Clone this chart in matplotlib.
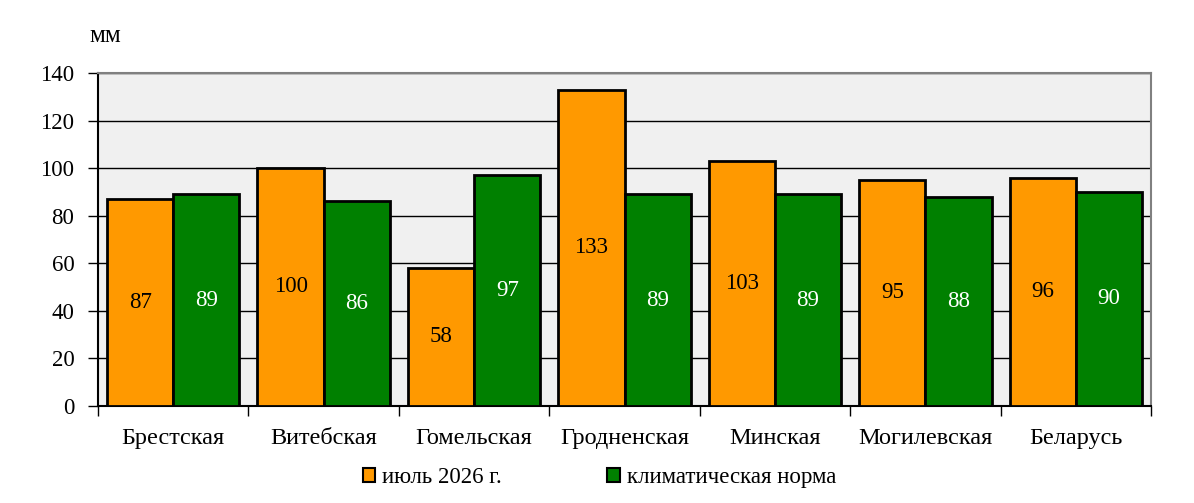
import numpy as np
import matplotlib.pyplot as plt
from matplotlib.patches import Patch

plt.rcParams['font.family'] = ['Liberation Serif', 'DejaVu Serif']

regions = ['Брестская', 'Витебская', 'Гомельская', 'Гродненская', 'Минская', 'Могилевская', 'Беларусь']
july = [87, 100, 58, 133, 103, 95, 96]
norm = [89, 86, 97, 89, 89, 88, 90]
yticks = [0, 20, 40, 60, 80, 100, 120, 140]

orange = '#FF9900'
green = '#008000'

fig = plt.figure(figsize=(11.94, 5.03), dpi=100)
ax = fig.add_axes([0.0821, 0.193, 0.882, 0.662])
ax.set_facecolor('#F0F0F0')

x = np.arange(len(regions))
w = 0.44
ax.bar(x - w / 2, july, w, color=orange, edgecolor='black', linewidth=2, zorder=3)
ax.bar(x + w / 2, norm, w, color=green, edgecolor='black', linewidth=2, zorder=3)

# подписи значений в середине столбцов
for xi, v in zip(x, july):
    ax.text(xi - w / 2, v / 2, str(v), ha='center', va='center', fontsize=16.5, color='black', zorder=4)
for xi, v in zip(x, norm):
    ax.text(xi + w / 2, v / 2, str(v), ha='center', va='center', fontsize=16.5, color='white', zorder=4)

ax.set_xlim(-0.5, len(regions) - 0.5)
ax.set_ylim(0, 140)
ax.set_yticks(yticks)
ax.yaxis.grid(True, color='black', linewidth=1)
ax.set_axisbelow(True)
ax.tick_params(axis='y', labelsize=16.5, length=7, width=1, direction='out', pad=10)

ax.set_xticks(x)
ax.set_xticklabels(regions, fontsize=17.5)
ax.set_xticks(np.arange(-0.5, len(regions)), minor=True)
ax.tick_params(axis='x', which='major', length=0, pad=16)
ax.tick_params(axis='x', which='minor', length=7, width=1, direction='out')

for s in ['top', 'right']:
    ax.spines[s].set_color('#808080')
    ax.spines[s].set_linewidth(1.5)
for s in ['left', 'bottom']:
    ax.spines[s].set_color('black')
    ax.spines[s].set_linewidth(1.5)

fig.text(0.075, 0.928, 'мм', fontsize=18, ha='left', va='center')

handles = [Patch(facecolor=orange, edgecolor='black', linewidth=1.5),
           Patch(facecolor=green, edgecolor='black', linewidth=1.5)]
fig.legend(handles, ['июль 2026 г.', 'климатическая норма'], loc='center', bbox_to_anchor=(0.502, 0.05),
           ncol=2, frameon=False, fontsize=16.5, handlelength=0.55, handleheight=0.55,
           handletextpad=0.3, columnspacing=4.6)

fig.savefig('out.png', dpi=100)
